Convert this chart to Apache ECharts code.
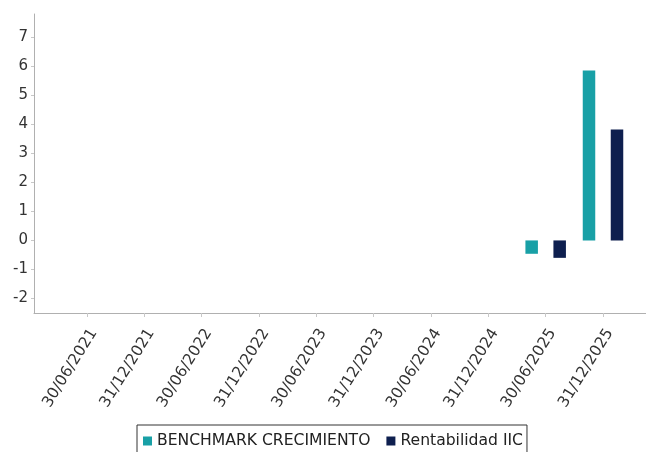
<!DOCTYPE html>
<html>
<head>
<meta charset="utf-8">
<script src="https://cdn.jsdelivr.net/npm/echarts@6/dist/echarts.min.js"></script>
<style>
  html, body { margin: 0; padding: 0; background: #ffffff; }
  #chart { width: 646px; height: 452px; }
</style>
</head>
<body>
<div id="chart"></div>
<script>
// Half-year reporting dates shown on the horizontal axis
const categories = [
  '30/06/2021', '31/12/2021', '30/06/2022', '31/12/2022', '30/06/2023',
  '31/12/2023', '30/06/2024', '31/12/2024', '30/06/2025', '31/12/2025'
];
// Returns per period (%); empty periods have no bar
const benchmarkValues = [null, null, null, null, null, null, null, null, -0.46, 5.85];
const iicValues       = [null, null, null, null, null, null, null, null, -0.6, 3.82];
// Tick labels of the vertical axis
const yTicks = [-2, -1, 0, 1, 2, 3, 4, 5, 6, 7];
const seriesNames = ['BENCHMARK CRECIMIENTO', 'Rentabilidad IIC'];

const tickIdx = categories.map((_, i) => i);
const toPoints = vals => vals.map((v, i) => [i, v]);

const chart = echarts.init(document.getElementById('chart'), null, { renderer: 'canvas' });
const font = 'DejaVu Sans';

chart.setOption({
  animation: false,
  backgroundColor: '#ffffff',
  textStyle: { fontFamily: font },
  grid: { left: 34, right: 0, top: 14, bottom: 139, containLabel: false },
  legend: {
    top: 425,
    left: 137,
    padding: [8, 4, 7, 6],
    borderColor: '#333333',
    borderWidth: 1,
    itemWidth: 9,
    itemHeight: 9,
    itemGap: 16,
    icon: 'rect',
    textStyle: { fontFamily: font, fontSize: 15.6, color: '#222222' },
    data: seriesNames
  },
  xAxis: {
    type: 'value',
    min: -0.925,
    max: 9.75,
    splitLine: { show: false },
    axisLine: { show: true, onZero: false, lineStyle: { color: '#b0b0b0', width: 1 } },
    axisTick: { show: true, customValues: tickIdx, length: 4, lineStyle: { color: '#c8c8c8' } },
    axisLabel: {
      customValues: tickIdx,
      rotate: 58,
      margin: 13,
      verticalAlign: 'top',
      fontFamily: font,
      fontSize: 15.5,
      color: '#333333',
      formatter: v => categories[Math.round(v)] || ''
    }
  },
  yAxis: {
    type: 'value',
    min: -2.5,
    max: 7.8,
    splitLine: { show: false },
    axisLine: { show: true, onZero: false, lineStyle: { color: '#b0b0b0', width: 1 } },
    axisTick: { show: true, customValues: yTicks, length: 3, lineStyle: { color: '#c8c8c8' } },
    axisLabel: {
      customValues: yTicks,
      margin: 6,
      fontFamily: font,
      fontSize: 15,
      color: '#333333'
    }
  },
  series: [
    {
      name: seriesNames[0],
      type: 'bar',
      data: toPoints(benchmarkValues),
      barWidth: 12.5,
      barGap: '124%',
      itemStyle: { color: '#18a0a6' }
    },
    {
      name: seriesNames[1],
      type: 'bar',
      data: toPoints(iicValues),
      barWidth: 12.5,
      barGap: '124%',
      itemStyle: { color: '#0e1f4f' }
    }
  ]
});
</script>
</body>
</html>
